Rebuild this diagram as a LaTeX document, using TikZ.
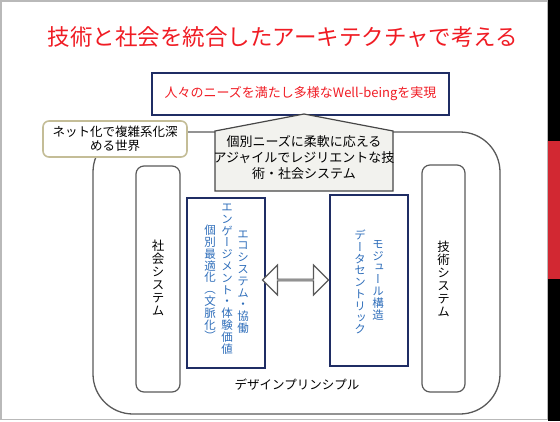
\documentclass[tikz,border=0pt]{standalone}
\usepackage{fontspec}
\setmainfont{Noto Sans CJK JP}
\newfontfamily\tatefont[RawFeature=+vert]{Noto Sans CJK JP}
\usetikzlibrary{shapes.arrows, positioning}
\definecolor{titlered}{RGB}{240,28,36}
\definecolor{navy}{RGB}{31,45,100}
\definecolor{edgegray}{RGB}{89,89,89}
\definecolor{khaki}{RGB}{196,189,151}
\definecolor{housefill}{RGB}{242,242,238}
\definecolor{textblue}{RGB}{47,110,186}
\definecolor{barred}{RGB}{210,40,50}
\tikzset{
    titletext/.style={text=titlered, font=\fontsize{22.5}{26}\selectfont, inner sep=0pt},
    goalbox/.style={rectangle, draw=navy, line width=2pt, minimum width=297pt, minimum height=42pt, text=titlered, font=\fontsize{13}{15}\selectfont},
    callout/.style={rectangle, rounded corners=6pt, draw=khaki, line width=1.6pt, fill=white, minimum width=144pt, minimum height=36pt, align=center, inner sep=0pt, font=\fontsize{12.5}{14}\selectfont},
    graybox/.style={rectangle, rounded corners=8pt, draw=edgegray, line width=1.2pt, minimum width=44pt, minimum height=226pt},
    bluebox/.style={rectangle, draw=navy, line width=2pt, minimum width=78pt, minimum height=170pt},
    tate/.style={align=center, inner sep=0pt, font=\tatefont\fontsize{12.5}{13}\selectfont},
    bluetate/.style={align=center, inner sep=0pt, text=textblue, font=\tatefont\fontsize{11.5}{11.8}\selectfont},
    dblarrow/.style={double arrow, draw=edgegray, line width=1.2pt, fill=white, minimum height=66pt, minimum width=30pt, double arrow head extend=9.5pt, inner sep=0pt}
}
\begin{document}
\begin{tikzpicture}[x=1pt, y=-1pt]
    \useasboundingbox (0,0) rectangle (560,421);
    % slide frame and side bar
    \draw[gray!55, line width=1.5pt] (0.75,0.75) rectangle (548,419.5);
    \fill[black] (548,0) rectangle (560,421);
    \fill[barred] (548,141) rectangle (560,279);

    % title and goal
    \node[titletext] (title) at (283,37) {技術と社会を統合したアーキテクチャで考える};
    \node[goalbox] (wellbeing) at (300.5,93.5) {人々のニーズを満たし多様なWell-beingを実現};

    % outer frame
    \draw[edgegray, line width=1.3pt, rounded corners=40pt] (93,132) rectangle (500,414);

    % house roof
    \coordinate (roof) at (304,114);
    \filldraw[fill=housefill, draw=edgegray!80!black, line width=1.2pt] (215,191) -- (215,131) -- (roof) -- (393,131) -- (393,191) -- cycle;
    \node[align=center, font=\fontsize{13}{16}\selectfont] (agile) at (304,158) {個別ニーズに柔軟に応える\\アジャイルでレジリエントな技\\術・社会システム};

    \node[callout] (network) at (115,139) {ネット化で複雑系化深\\める世界};

    % side systems
    \node[graybox] (society) at (158,279) {};
    \node[tate] (societytext) at (158,277.5) {社\\会\\シ\\ス\\テ\\ム};
    \node[graybox, minimum width=43pt, minimum height=227pt] (tech) at (443.5,278.5) {};
    \node[tate] (techtext) at (443.5,279) {技\\術\\シ\\ス\\テ\\ム};

    % blue boxes
    \node[bluebox] (ecosys) at (226,283) {};
    \node[bluetate] (eco1) at (243,282) {エ\\コ\\シ\\ス\\テ\\ム\\・\\協\\働};
    \node[bluetate] (eco2) at (227,279) {エ\\ン\\ゲ\\ー\\ジ\\メ\\ン\\ト\\・\\体\\験\\価\\値};
    \node[bluetate] (eco3) at (210,283) {個\\別\\最\\適\\化\\（\\文\\脈\\化\\）};

    \node[bluebox, minimum height=171pt] (modular) at (369,280.5) {};
    \node[bluetate] (mod1) at (378,280) {モ\\ジ\\ュ\\ー\\ル\\構\\造};
    \node[bluetate] (mod2) at (360,282) {デ\\ー\\タ\\セ\\ン\\ト\\リ\\ッ\\ク};

    \node[dblarrow] (link) at (295.5,280) {};

    \node[font=\fontsize{12.5}{14}\selectfont] (design) at (297,385) {デザインプリンシプル};
\end{tikzpicture}
\end{document}
